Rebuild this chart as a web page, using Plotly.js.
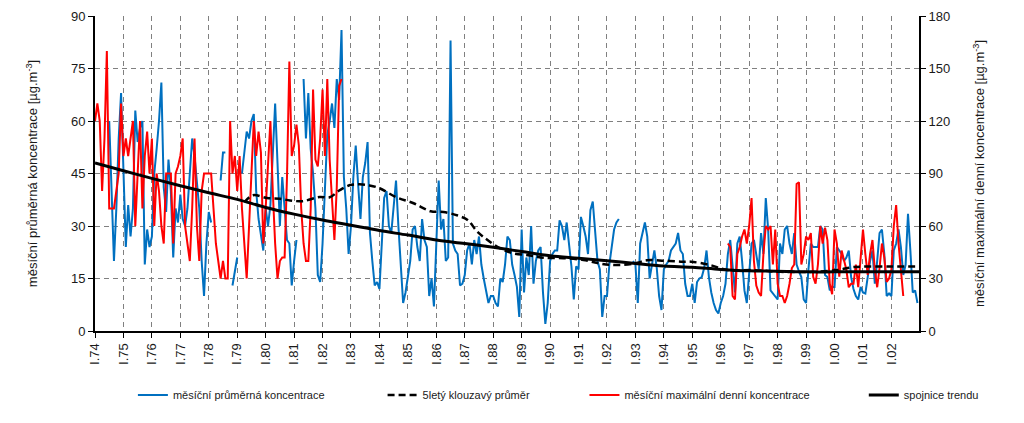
<!DOCTYPE html>
<html>
<head>
<meta charset="utf-8">
<script src="https://cdn.plot.ly/plotly-3.0.1.min.js"></script>
<style>
    body { margin: 0; background: white; }
    #chart { width: 1024px; height: 423px; }
</style>
</head>
<body>
<div id="chart"></div>
<script>
// roky na ose x (popisky I.74 ... I.02)
var years = [1974, 1975, 1976, 1977, 1978, 1979, 1980, 1981, 1982, 1983, 1984, 1985, 1986, 1987,
    1988, 1989, 1990, 1991, 1992, 1993, 1994, 1995, 1996, 1997, 1998, 1999, 2000, 2001, 2002];
var endYear = 2002.97;

// měsíční průměrná koncentrace [ug/m3], leden 1974 - prosinec 2002
var monthlyMean = [
    null, null, null, null, null, null, 60, 40, 20, 35, 55, 68,      // 1974
    45, 24, 36, 27, 35, 63, 54, 58, 60, 19, 29, 24,                  // 1975
    27, 45, 52, 60, 71, 41, 34, 49, 40, 21, 35, 31,                  // 1976
    39, 32, 30, 35, 45, 55, 50, 42, 35, 20, 10, 25,                  // 1977
    34, 31, null, null, null, 43, 51, 51, null, null, 13, 17,        // 1978
    21, null, 45, 51, 57, 55, 60, 62, 40, 32, 28, 23,                // 1979
    35, 30, 36, 50, 65, 48, 30, 44, 35, 26, 25, 13,                  // 1980
    20, 26, null, null, 72, 55, 68, 52, 45, 35, 16, 14,              // 1981
    25, 40, 56, 60, 65, 58, 72, 66, 86, 44, 35, 22,                  // 1982
    30, 44, 53, 42, 32, 44, 48, 54, 28, 20, 13, 14,                  // 1983
    12, 25, 38, 40, 30, 28, 35, 43, 30, 20, 8, 11,                   // 1984
    15, 20, 29, 30, 24, 20, 32, 26, 24, 10, 15, 7,                   // 1985
    25, 43, 29, 32, 20, 21, 83, 25, 23, 22, 13, 13.5,                // 1986
    16, 23, 25, 19, 26, 22, 27, 19, 15, 11, 8, 10,                   // 1987
    10, 8, 7, 15, 14, 19, 27, 26, 19, 16, 12.6, 4,                   // 1988
    29, 11, 21, 16, 30, 13.5, 20, 23, 24, 11, 2, 8,                  // 1989
    20, 22, 23, 23, 31.6, 30, 26, 31, 25, 18.5, 9, 18.5,             // 1990
    17.6, 32.6, 30, 27, 22, 34.5, 37, 28, 20, 17.6, 4, 10,           // 1991
    10, 19, 24, 29, 31, 32, null, null, null, null, null, 20,        // 1992
    19, 8, 25, 28, 31, 27, 15, 19, 23, 18, 10, 6,                    // 1993
    17.6, 19, 20, 23, 24, 25, 28, 23, 22, 13.5, 10, 10,              // 1994
    13.5, 8, 14, 15, 15.4, 18, 23, 15.4, 11, 8, 6, 5,                // 1995
    8, 10, 13.5, 22, 26, 18, 11, 25, 27, 20, 11.6, 8,                // 1996
    16, 25, 26, 22, 17.6, 28, 22, 38, 29, 11.6, 10.7, 10,            // 1997
    9, 25, 22, 29, 30, 25, 22, 28, 19, 17, 15.4, 9,                  // 1998
    8, 17.6, 25, 24, 24, 24, 30, 29, 16, 15.4, 11.6, 12.6,           // 1999
    12.6, 24, 23, 22, 20, 21, 23, 15.4, 12, 10, 9, 12.6,             // 2000
    11, 10.7, 15.4, 20, 23, 13.5, 20, 28, 29, 22, 10, 10.7,          // 2001
    10, 23, 25, 29, 24, 16, 19, 33.5, 23, 11, 11.6, 8                // 2002
];

// měsíční maximální denní koncentrace [ug/m3] (pravá osa)
var monthlyMax = [
    120, 130, 120, 80, 110, 160, 70, 70, 70, 80, 90, 130,            // 1974
    100, 110, 100, 110, 120, 60, 90, 120, 70, 100, 114, 90,          // 1975
    110, 60, 90, 80, 60, 50, 90, 90, 90, 50, 90, 94,                 // 1976
    100, 110, 60, 50, 40, 70, 110, 60, 40, 80, 90, 90,               // 1977
    90, 90, 70, 50, 40, 30, 40, 30, 30, 120, 90, 100,                // 1978
    80, 100, 70, 50, 30, 60, 90, 120, 100, 114, 102, 50,             // 1979
    70, 94, 120, 80, 50, 30, 40, 42, 42, 88, 154, 100,               // 1980
    106, 118, 106, 70, 50, 40, 40, 70, 138, 98, 94, 110,             // 1981
    138, 100, 144, 98, 74, 52, 82, 140, 144, null, null, null,       // 1982
    null, null, null, null, null, null, null, null, null, null, null, null,   // 1983
    null, null, null, null, null, null, null, null, null, null, null, null,   // 1984
    null, null, null, null, null, null, null, null, null, null, null, null,   // 1985
    null, null, null, null, null, null, null, null, null, null, null, null,   // 1986
    null, null, null, null, null, null, null, null, null, null, null, null,   // 1987
    null, null, null, null, null, null, null, null, null, null, null, null,   // 1988
    null, null, null, null, null, null, null, null, null, null, null, null,   // 1989
    null, null, null, null, null, null, null, null, null, null, null, null,   // 1990
    null, null, null, null, null, null, null, null, null, null, null, null,   // 1991
    null, null, null, null, null, null, null, null, null, null, null, null,   // 1992
    null, null, null, null, null, null, null, null, null, null, null, null,   // 1993
    null, null, null, null, null, null, null, null, null, null, null, null,   // 1994
    null, null, null, null, null, null, null, null, null, null, null, null,   // 1995
    null, null, null, 50, 48, 20, 18, 44, 48, 54, 58, 50,            // 1996
    60, 76, 40, 26, 22, 20, 44, 60, 58, 60, 38, 58,                  // 1997
    27, 20, 20, 16, 20, 27, 36, 38, 84, 85, 38, 44,                  // 1998
    54, 52, 56, 31, 27, 38, 60, 50, 59, 52, 27, 21,                  // 1999
    58, 50, 31, 46, 40, 35, 25, 27, 27, 38, 25, 40,                  // 2000
    58, 44, 32, 44, 52, 35, 25, 36, 50, 42, 28, 30,                  // 2001
    35, 60, 72, 50, 34, 20, null, null, null, null, null, null       // 2002
];

// 5letý klouzavý průměr
var movingAvgYear = [1979.25, 1979.55, 1980.05, 1980.5, 1980.86, 1981.3, 1981.9, 1982.25, 1982.6,
    1982.97, 1983.3, 1983.65, 1984.0, 1984.6, 1985.2, 1985.8, 1986.25, 1986.75, 1987.1, 1987.44,
    1987.8, 1988.25, 1988.7, 1989.3, 1989.77, 1990.47, 1991.17, 1991.67, 1992.1, 1992.6, 1993.07,
    1993.4, 1994.0, 1994.6, 1994.95, 1995.6, 1996.24, 1997.16, 1998.1, 1999.2, 2000.1, 2000.6,
    2001.0, 2002.0, 2002.95];
var movingAvg = [36.8, 38.8, 38, 37.8, 37.3, 37.1, 38.3, 38.2, 40.2,
    41.7, 41.9, 41.6, 40.8, 38.2, 36.5, 34.2, 34, 33, 31.7, 28.4,
    26, 23.6, 22.2, 21.6, 20.9, 20.8, 20.3, 19.4, 18.9, 18.9, 19.5,
    20.2, 20.1, 19.8, 19.8, 18.9, 17.4, 17.4, 16.9, 16.9, 17.4, 18.2,
    18.4, 18.4, 18.4];

// spojnice trendu (hodnoty k lednu každého roku + konec osy)
var trendYear = years.concat([endYear]);
var trendValue = [48, 45.8, 43.6, 41.5, 39.5, 37.6, 35.3, 33.4, 31.7, 30.2, 28.7, 27.4, 26, 25,
    23.9, 22.7, 21.5, 20.8, 20.1, 19.3, 18.6, 18.2, 17.6, 17.2, 17.1, 16.9, 16.9, 16.9, 16.9, 16.9];

var tickLabels = years.map(function(y) { return 'I.' + String(y).slice(2); });

var monthX = [];
for (var i = 0; i < monthlyMean.length; i++) {
    monthX.push(years[0] + i / 12);
}

var mainFont = "'Liberation Sans', Arial, sans-serif";
var legendFont = {family: "'Liberation Sans', Arial, sans-serif", size: 11, color: '#1a1a1a'};
var gridColor = '#808080';

var traces = [
    {
        x: monthX, y: monthlyMean, name: 'měsíční průměrná koncentrace',
        type: 'scatter', mode: 'lines', yaxis: 'y', legend: 'legend',
        line: {color: '#0070C0', width: 2}
    },
    {
        x: monthX, y: monthlyMax, name: 'měsíční maximální denní koncentrace',
        type: 'scatter', mode: 'lines', yaxis: 'y2', legend: 'legend3',
        line: {color: '#FF0000', width: 2}
    },
    {
        x: movingAvgYear, y: movingAvg, name: '5letý klouzavý průměr',
        type: 'scatter', mode: 'lines', yaxis: 'y3', legend: 'legend2',
        line: {color: 'black', width: 2.5, dash: '7px,4px', shape: 'spline'}
    },
    {
        x: trendYear, y: trendValue, name: 'spojnice trendu',
        type: 'scatter', mode: 'lines', yaxis: 'y3', legend: 'legend4',
        line: {color: 'black', width: 3, shape: 'spline'}
    }
];

function legendAt(xPos) {
    return {
        x: xPos, y: -0.203, xanchor: 'left', yanchor: 'middle',
        orientation: 'h', font: legendFont, bgcolor: 'rgba(0,0,0,0)'
    };
}

var layout = {
    width: 1024,
    height: 423,
    margin: {l: 95, r: 105, t: 16, b: 92},
    paper_bgcolor: 'white',
    plot_bgcolor: 'white',
    font: {family: mainFont, size: 13, color: '#1a1a1a'},
    showlegend: true,
    xaxis: {
        range: [years[0], endYear],
        tickvals: years,
        ticktext: tickLabels,
        tickangle: -90,
        tickfont: {size: 13},
        ticks: 'outside', ticklen: 5, tickcolor: 'black',
        showline: true, linecolor: 'black', linewidth: 2,
        showgrid: true, gridcolor: gridColor, griddash: '5px,4px', gridwidth: 1,
        zeroline: false
    },
    yaxis: {
        range: [0, 90], tick0: 0, dtick: 15,
        ticks: 'outside', ticklen: 5, tickcolor: 'black',
        showline: true, linecolor: 'black', linewidth: 2,
        showgrid: true, gridcolor: gridColor, griddash: '5px,4px', gridwidth: 1,
        zeroline: false,
        title: {text: 'měsíční průměrná koncentrace [µg.m<sup>-3</sup>]', standoff: 30, font: {size: 13}}
    },
    yaxis2: {
        overlaying: 'y', side: 'right',
        range: [0, 180], tick0: 0, dtick: 30,
        ticks: 'outside', ticklen: 5, tickcolor: 'black',
        showline: true, linecolor: 'black', linewidth: 2,
        showgrid: false, zeroline: false,
        title: {text: 'měsíční maximální denní koncentrace [µg.m<sup>-3</sup>]', standoff: 26, font: {size: 13}}
    },
    yaxis3: {overlaying: 'y', range: [0, 90], visible: false},
    legend: legendAt(0.046),
    legend2: legendAt(0.349),
    legend3: legendAt(0.594),
    legend4: legendAt(0.933)
};

Plotly.newPlot('chart', traces, layout, {displayModeBar: false, staticPlot: true});
</script>
</body>
</html>
